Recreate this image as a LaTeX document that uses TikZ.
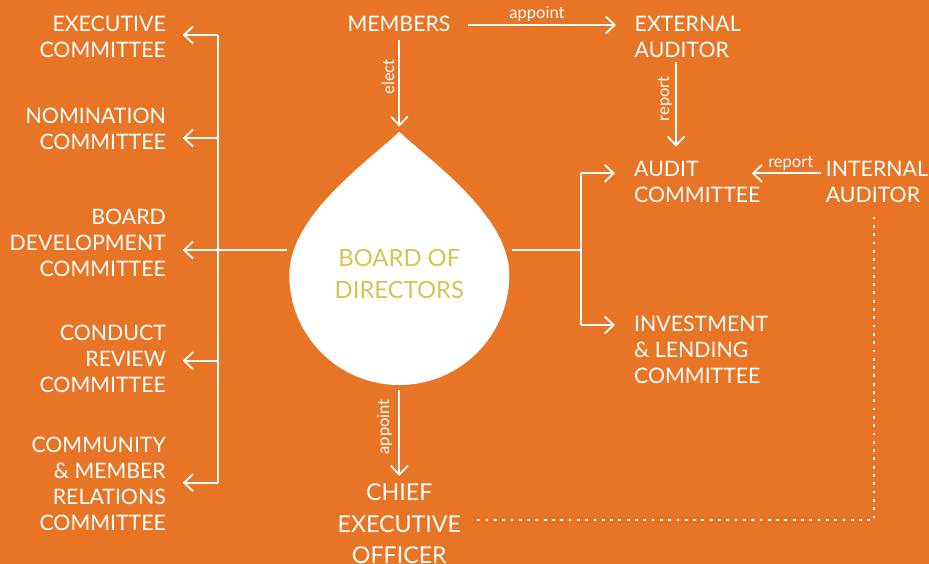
\documentclass[tikz,border=0pt]{standalone}
\usepackage{fontspec}
\setmainfont{Lato}
\usetikzlibrary{arrows.meta}
\definecolor{bgorange}{RGB}{232,117,37}
\definecolor{boardgold}{RGB}{215,196,84}
\begin{document}
\begin{tikzpicture}[x=1pt,y=-1pt,
  txt/.style={text=white, inner sep=0pt, font={\fontsize{21.3}{26}\selectfont}},
  boardtxt/.style={text=boardgold, inner sep=0pt, align=center, font={\fontsize{23.8}{31.7}\selectfont}},
  ceotxt/.style={text=white, inner sep=0pt, align=center, font={\fontsize{23.2}{31.7}\selectfont}},
  small/.style={text=white, inner sep=0pt, font={\fontsize{16.5}{19}\selectfont}},
  link/.style={draw=white, line width=1.8pt},
  arr/.style={link, -{Straight Barb[length=9pt,width=17pt]}},
  dots/.style={draw=white, line width=2.8pt, dash pattern=on 2.8pt off 5.5pt}
]
\useasboundingbox (0,0) rectangle (929,564);
\fill[bgorange] (0,0) rectangle (929,564);

% the board drop
\fill[white] (399.3,131.7) .. controls (370,160) and (289.3,215) .. (289.3,275)
  arc[start angle=180, end angle=0, radius=110]
  .. controls (509.3,215) and (428.6,160) .. cycle;
\coordinate (dropTop) at (399.3,131.7);
\coordinate (dropBot) at (399.3,385);
\coordinate (dropL) at (287,250);
\coordinate (dropR) at (512,250);
\node[boardtxt, anchor=north] (board) at (399.3,249.3) {BOARD OF\\DIRECTORS};

% left committees
\node[txt, align=right, anchor=north east] (exec) at (166,15.7) {EXECUTIVE\\COMMITTEE};
\node[txt, align=right, anchor=north east] (nom) at (166,108) {NOMINATION\\COMMITTEE};
\node[txt, align=right, anchor=north east] (bdc) at (166,209) {BOARD\\DEVELOPMENT\\COMMITTEE};
\node[txt, align=right, anchor=north east] (crc) at (166,325) {CONDUCT\\REVIEW\\COMMITTEE};
\node[txt, align=right, anchor=north east] (cmr) at (166,436.7) {COMMUNITY\\\& MEMBER\\RELATIONS\\COMMITTEE};

% top and right
\node[txt, anchor=north] (members) at (399,16) {MEMBERS};
\node[txt, align=left, anchor=north west] (ext) at (634.5,16) {EXTERNAL\\AUDITOR};
\node[txt, align=left, anchor=north west] (audit) at (634,160.7) {AUDIT\\COMMITTEE};
\node[txt, align=left, anchor=north west] (internal) at (825.7,160.7) {INTERNAL\\AUDITOR};
\node[txt, align=left, anchor=north west] (invest) at (634,316) {INVESTMENT\\\& LENDING\\COMMITTEE};
\node[ceotxt, anchor=north] (ceo) at (399.3,483.3) {CHIEF\\EXECUTIVE\\OFFICER};

% left bus
\coordinate (busTop) at (218.3,35);
\coordinate (busBot) at (218.3,482.7);
\coordinate (tExec) at (182.7,35);
\coordinate (tNom) at (182.7,138);
\coordinate (tBdc) at (182.7,250);
\coordinate (tCrc) at (182.7,360.7);
\coordinate (tCmr) at (182.7,482.7);
\draw[link] (busTop) -- (busBot);
\draw[arr] (busTop) -- (tExec);
\draw[arr] (tNom -| busTop) -- (tNom);
\draw[arr] (dropL) -- (tBdc);
\draw[arr] (tCrc -| busTop) -- (tCrc);
\draw[arr] (busBot) -- (tCmr);

% right bus
\coordinate (rbTop) at (580.7,173.3);
\coordinate (rbBot) at (580.7,325);
\coordinate (tAudit) at (615,173.3);
\coordinate (tInvest) at (615,325);
\draw[link] (dropR) -- (dropR -| rbTop);
\draw[link] (rbTop) -- (rbBot);
\draw[arr] (rbTop) -- (tAudit);
\draw[arr] (rbBot) -- (tInvest);

% members appoint external auditor, elect the board
\coordinate (memOut) at (467.7,25);
\coordinate (extIn) at (616,25);
\draw[arr] (memOut) -- (extIn);
\node[small, anchor=base] (lblAppoint1) at (537,18.3) {appoint};
\coordinate (memDown) at (399.3,40);
\draw[arr, shorten >=5pt] (memDown) -- (dropTop);
\node[small, rotate=90, anchor=base] (lblElect) at (394,77) {elect};

% reporting lines
\coordinate (extOut) at (676,61.7);
\coordinate (auditTop) at (676,146.7);
\draw[arr] (extOut) -- (auditTop);
\node[small, rotate=90, anchor=base] (lblReport1) at (669,98.7) {report};
\coordinate (intOut) at (820.7,173.3);
\coordinate (auditSide) at (751.7,173.3);
\draw[arr] (intOut) -- (auditSide);
\node[small, anchor=base] (lblReport2) at (790.7,167.3) {report};

% board appoints the CEO
\coordinate (boardOut) at (399.3,390);
\coordinate (ceoIn) at (399.3,476);
\draw[arr] (boardOut) -- (ceoIn);
\node[small, rotate=90, anchor=base] (lblAppoint2) at (389,426.7) {appoint};

% internal auditor to CEO, dotted
\coordinate (intDot) at (874,216.7);
\coordinate (ceoDot) at (474,520);
\draw[dots] (intDot) |- (ceoDot);
\end{tikzpicture}
\end{document}
